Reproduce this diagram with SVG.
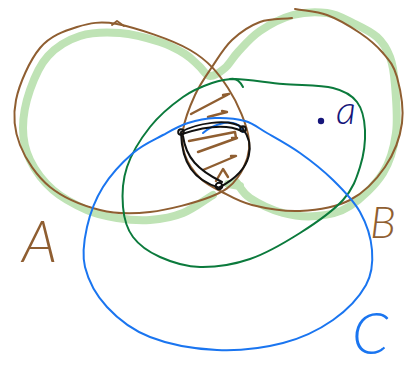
<svg xmlns="http://www.w3.org/2000/svg" width="409" height="365" viewBox="0 0 409 365">
<style>
.hl{fill:none;stroke:#bfe3b5;stroke-width:8;stroke-linecap:round;stroke-linejoin:round}
.br{fill:none;stroke:#8f5e31;stroke-width:2;stroke-linecap:round;stroke-linejoin:round}
.ht{fill:none;stroke:#8f5e31;stroke-width:2.4;stroke-linecap:round;stroke-linejoin:round}
.dg{fill:none;stroke:#0b7a3c;stroke-width:2;stroke-linecap:round}
.bl{fill:none;stroke:#1a75f0;stroke-width:2;stroke-linecap:round}
.bk{fill:none;stroke:#111;stroke-width:2;stroke-linecap:round;stroke-linejoin:round}
.lbl{font-family:Lato,"Liberation Sans",sans-serif;font-style:italic;font-weight:300}
</style>
<rect width="409" height="365" fill="#fff"/>
<g id="highlight">
<path class="hl" d="M236,182 C240.7,187.3 242.2,192.8 250,198 C257.8,203.2 271.8,210 283,213 C294.2,216 305.8,217.2 317,216 C328.2,214.8 339,213.2 350,206 C361,198.8 375.3,185.2 383,173 C390.7,160.8 394,147.7 396,133 C398,118.3 396,97.7 395,85 C394,72.3 393,65 390,57 C387,49 383.2,42.7 377,37 C370.8,31.3 361.3,27 353,23 C344.7,19 337,14.3 327,13 C317,11.7 304.2,12 293,15 C281.8,18 269.2,24.8 260,31 C250.8,37.2 243.8,45.8 238,52 C232.2,58.2 229.7,64 225,68 C220.3,72 214.3,76.3 210,76 C205.7,75.7 203.2,69.7 199,66 C194.8,62.3 191.5,58 185,54 C178.5,50 170.8,45.5 160,42 C149.2,38.5 133.3,34 120,33 C106.7,32 92,32.2 80,36 C68,39.8 56.3,47 48,56 C39.7,65 34.2,78 30,90 C25.8,102 23,116.3 23,128 C23,139.7 25,149.7 30,160 C35,170.3 43.5,181.7 53,190 C62.5,198.3 76.3,205.3 87,210 C97.7,214.7 106.5,216.3 117,218 C127.5,219.7 139,220.8 150,220 C161,219.2 172.5,217.2 183,213 C193.5,208.8 203,201 213,195"/>
<path class="hl" d="M228,184 L240,186"/>
</g>
<g id="setA">
<path class="br" d="M117,24 C135.8,27.8 171.5,39.3 190,50 C208.5,60.7 218.2,73 228,88 C237.8,103 247.3,125.2 249,140 C250.7,154.8 244.5,167.5 238,177 C231.5,186.5 224.7,191.2 210,197 C195.3,202.8 168.3,209.8 150,212 C131.7,214.2 116.7,214.2 100,210 C83.3,205.8 63.3,197.8 50,187 C36.7,176.2 25.7,159.5 20,145 C14.3,130.5 12.7,116.2 16,100 C19.3,83.8 29.8,60.2 40,48 C50.2,35.8 64.2,31 77,27 C89.8,23 100,21 117,24"/>
<path class="br" d="M112,25 L117,21 L124,26"/>
</g>
<g id="setB">
<path class="br" d="M295,9 C305.7,11 316.2,11 327,15 C337.8,19 350.7,26.7 360,33 C369.3,39.3 376.8,45.7 383,53 C389.2,60.3 393.8,65.3 397,77 C400.2,88.7 404,108 402,123 C400,138 393.7,154.2 385,167 C376.3,179.8 364.2,192.7 350,200 C335.8,207.3 316.3,210.2 300,211 C283.7,211.8 265,208.2 252,205 C239,201.8 230.7,196.5 222,192 C213.3,187.5 206.2,184.2 200,178 C193.8,171.8 187.8,163 185,155 C182.2,147 181.3,140 183,130 C184.7,120 190.2,105.5 195,95 C199.8,84.5 205.8,76.2 212,67 C218.2,57.8 224,47.5 232,40 C240,32.5 250,25.7 260,22 C270,18.3 281.3,19.3 292,18"/>
</g>
<g id="hatching">
<path class="ht" d="M191,114 L229,94 L223,95"/>
<path class="ht" d="M208,117 L227,112 L222,111"/>
<path class="ht" d="M189,141 L235,132 L236,138"/>
<path class="ht" d="M198,152 L237,138 L232,138"/>
<path class="ht" d="M203,170 L236,156 L231,156"/>
<path class="ht" d="M216,181 L223,169 L228,177"/>
</g>
<g id="setG">
<path class="dg" d="M235,79 C246.8,79.2 266.7,82.5 283,84 C299.3,85.5 320.7,85 333,88 C345.3,91 351.7,95 357,102 C362.3,109 364.5,119.2 365,130 C365.5,140.8 363.7,155.3 360,167 C356.3,178.7 353,189 343,200 C333,211 315.5,223.2 300,233 C284.5,242.8 266.7,253.3 250,259 C233.3,264.7 215,267.3 200,267 C185,266.7 171.2,262 160,257 C148.8,252 139.2,245.3 133,237 C126.8,228.7 124,218.7 123,207 C122,195.3 122.5,180.3 127,167 C131.5,153.7 140.7,138.7 150,127 C159.3,115.3 172.7,104.3 183,97 C193.3,89.7 203.3,86 212,83 C220.7,80 227,79 235,79"/>
<path class="dg" d="M230,79 Q238,77 243,87"/>
</g>
<g id="setC">
<path class="bl" d="M215,118 C224.5,117.7 236.3,118.5 245,121 C253.7,123.5 257.8,127.7 267,133 C276.2,138.3 289,145.2 300,153 C311,160.8 323,170.2 333,180 C343,189.8 353.5,200.3 360,212 C366.5,223.7 371,237.8 372,250 C373,262.2 372.5,273.3 366,285 C359.5,296.7 346.8,310.3 333,320 C319.2,329.7 302.3,338 283,343 C263.7,348 239.2,351 217,350 C194.8,349 168.3,344.2 150,337 C131.7,329.8 117.8,318.7 107,307 C96.2,295.3 88.3,280.3 85,267 C81.7,253.7 84,240.3 87,227 C90,213.7 95.3,199.3 103,187 C110.7,174.7 123,161.7 133,153 C143,144.3 153.8,140 163,135 C172.2,130 179.3,125.8 188,123 C196.7,120.2 205.5,118.3 215,118 Z"/>
<path class="bl" d="M203,133 C212,125 228,120 236,124 C240,126 242,129 243,132"/>
</g>
<g id="region">
<path class="bk" d="M181,132 C195,124 228,117 243,128"/>
<path class="bk" d="M182,134 C200,128 225,123 242,131"/>
<path class="bk" d="M243,129 C253,142 256,168 220,187"/>
<path class="bk" d="M181,133 C182,163 193,180 220,188"/>
<path class="bk" d="M183,136 C186,158 198,170 222,182"/>
<circle class="bk" cx="181" cy="132" r="2.8"/>
<circle class="bk" cx="243" cy="129" r="2.8"/>
<circle class="bk" cx="219" cy="186" r="3.3"/>
</g>
<g id="point-a">
<circle cx="321" cy="121" r="3.2" fill="#15157a"/>
<text class="lbl" x="336" y="124" font-size="40" font-weight="400" fill="#15157a">a</text>
</g>
<g id="labels">
<text class="lbl" x="22" y="262" font-size="58" fill="#8f5e31">A</text>
<text class="lbl" x="370" y="238" font-size="44" fill="#8f5e31">B</text>
<text class="lbl" x="352" y="354" font-size="58" fill="#1a75f0">C</text>
</g>
</svg>
